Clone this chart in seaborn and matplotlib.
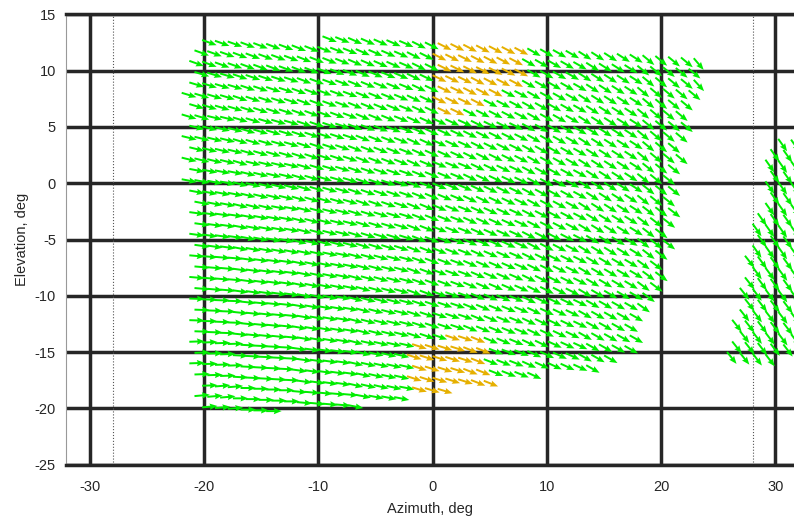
import numpy as np
import matplotlib
matplotlib.use("Agg")
import matplotlib.pyplot as plt
import seaborn as sns
from matplotlib.path import Path

# ---------------------------------------------------------------------------
# Data
# ---------------------------------------------------------------------------
# outline of the main sampled region (arrow tails), azimuth / elevation in deg
FIELD_AZ = [-21.9, -16.5, -5.0, 8.0, 9.5, 23.6, 23.2, 21.8, 21.0, 20.2, 19.0,
            17.0, 13.5, 8.0, 3.0, -2.5, -7.5, -21.2, -21.5, -22.0, -22.0]
FIELD_EL = [12.6, 13.2, 13.0, 12.7, 11.9, 11.9, 9.0, 5.0, 0.0, -5.0, -10.0,
            -14.5, -16.2, -16.9, -17.9, -18.9, -19.8, -20.7, -10.0, 0.0, 6.0]

# outline of the small patch at the right edge
PATCH_AZ = [25.2, 29.5, 32.5, 32.5, 29.8, 28.6, 27.6, 26.5]
PATCH_EL = [-15.5, -15.5, -13.0, 4.5, 5.0, 0.0, -5.0, -10.0]

# regions drawn in orange
HOT_TOP_AZ = [-0.6, 7.5, 7.5, 5.0, 0.5, -0.6]
HOT_TOP_EL = [13.0, 13.0, 9.0, 7.8, 5.5, 6.5]
HOT_BOT_AZ = [-2.4, 2.0, 3.6, 4.6, 0.5, -2.4]
HOT_BOT_EL = [-14.2, -12.9, -13.1, -17.8, -19.0, -19.0]

# arrow direction (deg, counter-clockwise from +azimuth) at coarse knots
ANGLE_AZ = [-20, -15, -10, -5, 0, 5, 10, 15, 20, 25, 30]
ANGLE_EL = [12, 8, 4, 0, -4, -8, -12, -16, -20]
ANGLE_DEG = [
    [-20, -21, -22, -24, -27, -28, -30, -33, -40, -50, -56],
    [-17, -19, -21, -23, -26, -28, -30, -33, -40, -48, -56],
    [-14, -17, -19, -22, -25, -27, -30, -33, -40, -47, -55],
    [-11, -14, -17, -20, -23, -26, -29, -33, -39, -47, -55],
    [-8, -11, -15, -18, -22, -25, -28, -32, -38, -50, -55],
    [-5, -8, -12, -16, -21, -24, -27, -31, -37, -52, -54],
    [-2, -6, -10, -15, -19, -23, -26, -30, -36, -52, -53],
    [2, -3, -8, -13, -18, -22, -25, -30, -36, -52, -53],
    [5, 0, -5, -11, -17, -21, -25, -30, -35, -52, -53],
]

# sampling lattice of the field
STEP_AZ = 1.12
STEP_EL = 0.96
ROW_TILT = 0.06
ROW_STAGGER = 0.45
ARROW_LEN = 1.35

X_TICKS = [-30, -20, -10, 0, 10, 20, 30]
Y_TICKS = [-25, -20, -15, -10, -5, 0, 5, 10, 15]
MARKER_AZ = [-28, 28]

GREEN = "#00ee00"
ORANGE = "#e6b000"
GRID = "#262626"

# ---------------------------------------------------------------------------
# Build the arrows
# ---------------------------------------------------------------------------
ii, jj = np.meshgrid(np.arange(-30, 32), np.arange(-30, 30))
az = (ii * STEP_AZ + (jj % 2) * ROW_STAGGER).ravel()
el = (jj * STEP_EL).ravel() - ROW_TILT * az
pts = np.column_stack([az, el])

in_field = Path(np.column_stack([FIELD_AZ, FIELD_EL])).contains_points(pts)
in_patch = Path(np.column_stack([PATCH_AZ, PATCH_EL])).contains_points(pts)
keep = in_field | in_patch
az, el, pts = az[keep], el[keep], pts[keep]

hot = (Path(np.column_stack([HOT_TOP_AZ, HOT_TOP_EL])).contains_points(pts)
       | Path(np.column_stack([HOT_BOT_AZ, HOT_BOT_EL])).contains_points(pts))

ang_tab = np.array(ANGLE_DEG, dtype=float)
ai = np.abs(az[:, None] - np.array(ANGLE_AZ)[None, :]).argmin(axis=1)
ei = np.abs(el[:, None] - np.array(ANGLE_EL)[None, :]).argmin(axis=1)
ang = np.deg2rad(ang_tab[ei, ai])
u = ARROW_LEN * np.cos(ang)
v = ARROW_LEN * np.sin(ang)
colors = np.where(hot, ORANGE, GREEN)

# ---------------------------------------------------------------------------
# Plot
# ---------------------------------------------------------------------------
sns.set_theme(style="white")
plt.rcParams["font.family"] = ["Liberation Sans", "DejaVu Sans"]
plt.rcParams["axes.unicode_minus"] = False

fig = plt.figure(figsize=(7.94, 5.25), dpi=100)
ax = fig.add_axes([0.0827, 0.1150, 0.9173, 0.8575])

for xt in X_TICKS:
    ax.axvline(xt, color=GRID, lw=2.5, zorder=1)
for yt in Y_TICKS:
    ax.axhline(yt, color=GRID, lw=2.5, zorder=1)
for m in MARKER_AZ:
    ax.axvline(m, color="#555555", lw=0.8, ls=":", zorder=1)

ax.quiver(az, el, u, v, color=colors, angles="xy", scale_units="xy", scale=1,
          pivot="tail", width=0.0027, headwidth=3.2, headlength=4,
          headaxislength=3.6, zorder=3)

ax.set_xlim(-32.1, 31.62)
ax.set_ylim(-25, 15)
ax.set_xticks(X_TICKS)
ax.set_yticks(Y_TICKS)
ax.tick_params(axis="both", length=0, labelsize=10.5, colors="#262626")
ax.tick_params(axis="x", pad=11)
ax.tick_params(axis="y", pad=7)
ax.set_xlabel("Azimuth, deg", fontsize=10.5, color="#262626", labelpad=6)
ax.set_ylabel("Elevation, deg", fontsize=10.5, color="#262626", labelpad=4)

for side in ["top", "bottom"]:
    ax.spines[side].set_color(GRID)
    ax.spines[side].set_linewidth(2.5)
ax.spines["left"].set_color("#999999")
ax.spines["left"].set_linewidth(0.8)
ax.spines["right"].set_visible(False)

fig.savefig("out.png", dpi=100)
